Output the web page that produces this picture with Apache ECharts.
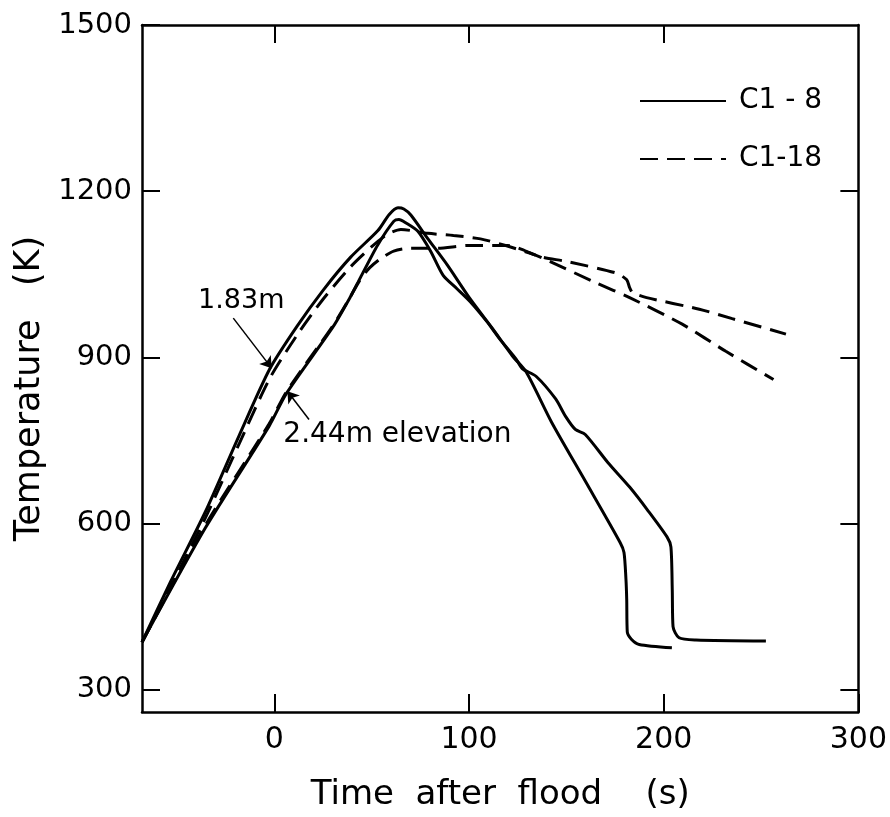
<!DOCTYPE html>
<html><head><meta charset="utf-8">
<script src="https://cdn.jsdelivr.net/npm/echarts@6/dist/echarts.min.js"></script>
<style>html,body{margin:0;padding:0;background:#fff}#c{width:890px;height:817px}</style>
</head><body><div id="c"></div>
<script>
// ---- data (time s, temperature K) ----
const xTicks = [0, 100, 200, 300];
const yTicks = [300, 600, 900, 1200, 1500];
const xTicksTop = [0, 100, 200];
const yTicksRight = [300, 600, 900, 1200];
const xRange = [-68, 300];
const yRange = [260, 1500];

// C1-8 (solid), 1.83 m elevation
const c8_183 = [[-68,386],[-53.2,496],[-35.5,621],[-18.1,759],[-2.4,879],[11.6,956],[25.2,1022],[39.2,1081],[53.2,1129],[59,1158],[63.5,1170],[66.5,1168],[70.1,1157],[78.7,1115],[88.8,1067],[100.5,1006],[112.1,952],[122.2,903],[129.3,874],[142.4,783],[160,675],[177.6,566],[179.6,548],[180.6,500],[181,463],[181.3,404],[183.5,391],[187.4,382],[204.2,376]];
// C1-8 (solid), 2.44 m elevation
const c8_244 = [[-68,386],[-35.5,592],[-2.7,776],[6.2,835],[30.1,955],[39,1009],[44.2,1044],[53.1,1103],[61.4,1146],[64,1149],[67.5,1143],[73.6,1128],[80.2,1092],[86.7,1048],[93.8,1024],[100.5,1001],[109.1,965],[115.6,934],[124.2,897],[127.3,880],[134.4,866],[144.5,825],[149.5,794],[154.6,770],[159.7,761],[171.4,710],[182.5,666],[191.6,625],[201.7,576],[203.7,558],[204.4,480],[204.8,414],[207.9,394],[216.6,390],[252.5,388]];
// C1-18 (dashed), 1.83 m elevation
const c18_183 = [[-68,386],[-53,488],[-35.5,610],[-18,745],[-2.4,862],[11.6,940],[25,1005],[39,1063],[50,1100],[58,1122],[65,1131],[78.8,1124],[92,1120],[105.9,1114],[119.7,1101],[133,1086],[141.7,1073],[165.6,1034],[182.5,1008],[209.5,960],[231.9,911],[256.4,860]];
// C1-18 (dashed), 2.44 m elevation
const c18_244 = [[-68,386],[-35.5,597],[-2.7,780],[6.2,838],[30,957],[38,1003],[44,1040],[49,1062],[54.5,1078],[61.3,1092],[70,1097],[83.8,1097],[99.2,1102],[119.7,1102],[136.4,1082],[150.3,1073],[175.9,1052],[181,1040],[182.5,1026],[184,1017],[191.2,1008],[218.3,987],[235.2,970],[262.8,942]];

const seriesNames = ['C1 - 8', 'C1-18'];
// annotation anchors (data coords)
const note183 = {text: '1.83m', at: [-17, 1002], arrow: [[-21.1, 971], [-1.4, 880.6]]};
const note244 = {text: '2.44m elevation', at: [4.6, 761], arrow: [[17.8, 788], [6.7, 838.8]]};

const FONT = 'DejaVu Sans';
const chart = echarts.init(document.getElementById('c'), null, {renderer: 'canvas'});

function baseAxisLine() { return {show: true, onZero: false, lineStyle: {color: '#000', width: 2.5}}; }

const solid = {color: '#000', width: 3, type: 'solid'};
const dashed = {color: '#000', width: 3, type: [18, 9]};

function mk(name, data, ls, extra) {
  return Object.assign({
    type: 'line', name: name, data: data, showSymbol: false, symbol: 'none',
    smooth: 0.25, lineStyle: ls, itemStyle: {color: '#000'}, animation: false, z: 3
  }, extra || {});
}
const plain = v => String(v);

const option = {
  backgroundColor: '#fff',
  animation: false,
  grid: {left: 142, right: 30, top: 25, bottom: 103, containLabel: false},
  legend: {
    data: seriesNames, orient: 'vertical', left: 634, top: 82,
    itemWidth: 86, itemHeight: 20, itemGap: 30,
    itemStyle: {opacity: 0},
    textStyle: {fontFamily: FONT, fontSize: 28, color: '#000', padding: [0, 0, 0, 8]},
    selectedMode: false
  },
  xAxis: [{
    type: 'value', min: xRange[0], max: xRange[1], position: 'bottom',
    axisLine: baseAxisLine(),
    axisTick: {show: true, inside: true, length: 18, customValues: xTicks, lineStyle: {color: '#000', width: 2}},
    axisLabel: {customValues: xTicks, formatter: plain, fontFamily: FONT, fontSize: 30, color: '#000', margin: 13},
    splitLine: {show: false},
    name: 'Time  after  flood    (s)', nameLocation: 'middle', nameGap: 66,
    nameTextStyle: {fontFamily: FONT, fontSize: 34, color: '#000'}
  }, {
    type: 'value', min: xRange[0], max: xRange[1], position: 'top',
    axisLine: baseAxisLine(),
    axisTick: {show: true, inside: true, length: 18, customValues: xTicksTop, lineStyle: {color: '#000', width: 2}},
    axisLabel: {show: false}, splitLine: {show: false}
  }],
  yAxis: [{
    type: 'value', min: yRange[0], max: yRange[1], position: 'left',
    axisLine: baseAxisLine(),
    axisTick: {show: true, inside: true, length: 18, customValues: yTicks, lineStyle: {color: '#000', width: 2}},
    axisLabel: {customValues: yTicks, formatter: plain, fontFamily: FONT, fontSize: 29, color: '#000', margin: 10},
    splitLine: {show: false},
    name: 'Temperature   (K)', nameLocation: 'middle', nameGap: 74, nameRotate: 90,
    nameTextStyle: {fontFamily: FONT, fontSize: 35, color: '#000', padding: [0, 40, 0, 0]}
  }, {
    type: 'value', min: yRange[0], max: yRange[1], position: 'right',
    axisLine: baseAxisLine(),
    axisTick: {show: true, inside: true, length: 18, customValues: yTicksRight, lineStyle: {color: '#000', width: 2}},
    axisLabel: {show: false}, splitLine: {show: false}
  }],
  series: [
    mk(seriesNames[0], c8_183, solid, {
      markLine: {
        silent: true, symbol: ['none', 'arrow'], symbolSize: 11, animation: false,
        lineStyle: {color: '#000', width: 1.5, type: 'solid'}, label: {show: false},
        data: [
          [{coord: note183.arrow[0]}, {coord: note183.arrow[1]}],
          [{coord: note244.arrow[0]}, {coord: note244.arrow[1]}]
        ]
      }
    }),
    mk(seriesNames[0], c8_244, solid),
    mk(seriesNames[1], c18_183, dashed),
    mk(seriesNames[1], c18_244, dashed)
  ]
};
chart.setOption(option);

const p1 = chart.convertToPixel({gridIndex: 0}, note183.at);
const p2 = chart.convertToPixel({gridIndex: 0}, note244.at);
chart.setOption({
  graphic: [
    {type: 'text', x: p1[0], y: p1[1], style: {text: note183.text, fontFamily: FONT, fontSize: 27, fill: '#000', align: 'center', verticalAlign: 'middle'}},
    {type: 'text', x: p2[0], y: p2[1], style: {text: note244.text, fontFamily: FONT, fontSize: 28, fill: '#000', align: 'left', verticalAlign: 'middle'}}
  ]
});
</script></body></html>
